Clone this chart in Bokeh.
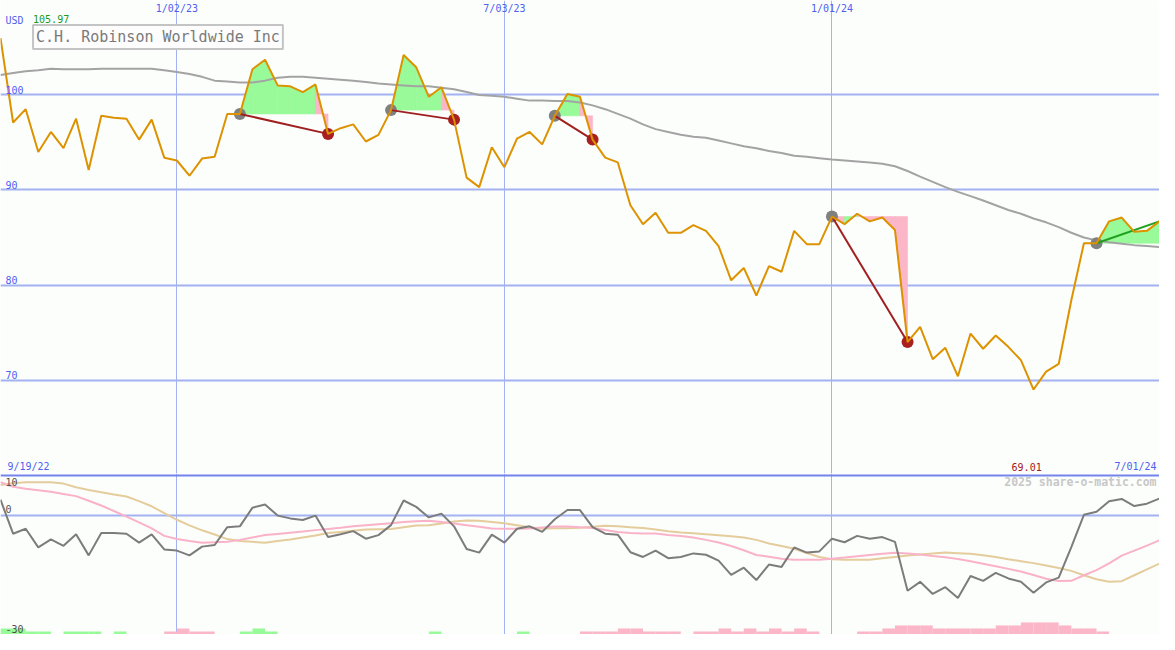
import numpy as np
import pandas as pd
from bokeh.plotting import figure
from bokeh.layouts import column
from bokeh.models import Range1d, Grid, FixedTicker, Label
from bokeh.embed import file_html
from bokeh.resources import INLINE
from bokeh.core.properties import value

# ---------------- data ----------------
dates = pd.date_range("2022-09-26", "2024-07-01", freq="7D")  # weekly points (93)

price = [105.97, 97.1, 98.5, 94.0, 96.1, 94.4, 97.5, 92.1, 97.8, 97.6,
         97.5, 95.3, 97.4, 93.4, 93.1, 91.5, 93.3, 93.5, 98.0, 98.0,
         102.7, 103.7, 101.0, 100.9, 100.3, 101.1, 95.9, 96.5, 96.9, 95.1,
         95.8, 98.4, 104.2, 102.9, 99.8, 100.8, 97.4, 91.3, 90.3, 94.5,
         92.4, 95.4, 96.1, 94.8, 97.8, 100.1, 99.8, 95.3, 93.4, 92.9,
         88.4, 86.4, 87.6, 85.5, 85.5, 86.3, 85.7, 84.1, 80.5, 81.8,
         78.9, 82.0, 81.4, 85.7, 84.3, 84.3, 87.2, 86.4, 87.5, 86.7,
         87.1, 85.8, 74.0, 75.6, 72.2, 73.4, 70.4, 74.9, 73.3, 74.7,
         73.5, 72.1, 69.01, 70.9, 71.7, 78.4, 84.4, 84.4, 86.7, 87.1,
         85.6, 85.7, 86.7]

ma_long = [102.1, 102.3, 102.5, 102.6, 102.75, 102.7, 102.7, 102.7, 102.75, 102.75,
           102.75, 102.75, 102.75, 102.6, 102.4, 102.2, 101.9, 101.5, 101.4, 101.3,
           101.3, 101.5, 101.8, 101.9, 101.9, 101.8, 101.7, 101.6, 101.5, 101.35,
           101.2, 101.1, 101.0, 100.9, 100.9, 100.75, 100.6, 100.3, 100.0, 99.9,
           99.8, 99.6, 99.4, 99.4, 99.35, 99.35, 99.2, 98.9, 98.5, 98.0,
           97.5, 96.9, 96.4, 96.1, 95.8, 95.6, 95.5, 95.2, 94.9, 94.6,
           94.4, 94.1, 93.9, 93.6, 93.5, 93.35, 93.2, 93.1, 93.0, 92.9,
           92.75, 92.5, 92.0, 91.4, 90.85, 90.3, 89.8, 89.35, 88.9, 88.4,
           87.9, 87.5, 87.0, 86.6, 86.1, 85.5, 85.0, 84.7, 84.5, 84.35,
           84.2, 84.1, 84.0]

osc = [3.9, -4.65, -3.4, -8.1, -6.1, -7.7, -4.8, -10.1, -4.5, -4.5,
       -4.65, -6.9, -4.8, -8.6, -8.9, -10.1, -7.9, -7.5, -3.0, -2.8,
       1.9, 2.7, -0.1, -0.8, -1.2, -0.1, -5.5, -4.8, -4.0, -5.9,
       -5.0, -2.5, 3.7, 2.1, -0.55, 0.4, -2.8, -8.5, -9.4, -4.9,
       -6.9, -3.4, -2.8, -4.2, -1.0, 1.3, 1.3, -3.0, -4.65, -4.9,
       -9.3, -10.5, -8.9, -10.8, -10.5, -9.6, -9.95, -11.4, -15.0, -13.2,
       -16.3, -12.4, -13.0, -8.1, -9.4, -9.1, -5.9, -6.8, -5.2, -5.9,
       -5.5, -6.7, -19.0, -16.75, -19.8, -18.1, -20.8, -15.3, -16.5, -14.5,
       -15.9, -16.75, -19.5, -16.9, -15.7, -8.0, 0.1, 0.85, 3.5, 4.1,
       2.3, 2.9, 4.2]

osc_fast = [8.3, 7.15, 6.65, 6.3, 5.9, 5.35, 4.8, 3.65, 2.45, 1.05,
            -0.35, -1.8, -3.3, -5.2, -6.0, -6.5, -6.9, -6.8, -6.7, -6.2,
            -5.6, -5.0, -4.7, -4.4, -4.1, -3.75, -3.45, -3.15, -2.8, -2.55,
            -2.3, -2.05, -1.7, -1.5, -1.4, -1.7, -2.1, -2.5, -2.9, -3.35,
            -3.4, -3.4, -3.35, -3.1, -2.85, -2.85, -3.05, -3.2, -3.7, -4.2,
            -4.5, -4.6, -4.6, -5.0, -5.2, -5.6, -6.2, -6.85, -7.75, -8.8,
            -10.0, -10.45, -10.95, -11.2, -11.2, -11.2, -10.95, -10.65, -10.3, -10.0,
            -9.7, -9.45, -9.6, -9.9, -10.25, -10.55, -11.0, -11.6, -12.2, -12.85,
            -13.5, -14.15, -15.05, -16.0, -16.55, -16.5, -15.1, -13.8, -12.1, -10.15,
            -8.9, -7.65, -6.3]

osc_slow = [7.6, 8.05, 8.3, 8.3, 8.3, 7.95, 7.05, 6.35, 5.75, 5.2,
            4.7, 3.55, 2.25, 0.5, -1.15, -2.55, -3.8, -4.85, -6.0, -6.5,
            -6.7, -6.95, -6.5, -6.1, -5.6, -5.1, -4.5, -4.2, -3.9, -3.6,
            -3.5, -3.45, -3.0, -2.6, -2.55, -2.1, -1.6, -1.35, -1.4, -1.7,
            -2.05, -2.5, -3.0, -3.4, -3.3, -3.25, -3.15, -2.9, -2.65, -2.75,
            -3.0, -3.2, -3.6, -4.05, -4.35, -4.55, -4.8, -5.05, -5.3, -5.6,
            -6.2, -7.1, -7.75, -8.45, -9.5, -10.5, -11.05, -11.2, -11.2, -11.2,
            -10.85, -10.5, -10.15, -9.9, -9.65, -9.4, -9.55, -9.7, -10.05, -10.5,
            -11.05, -11.55, -12.05, -12.65, -13.3, -14.0, -15.1, -16.1, -16.75, -16.6,
            -15.1, -13.6, -12.15]

# signal strength per week: sign = direction (green +, pink -), magnitude = level
signal = [2, 2, 1, 1, 0, 1, 1, 1, 0, 1,
          0, 0, 0, -1, -2, -1, -1, 0, 0, 1,
          2, 1, 0, 0, 0, 0, 0, 0, 0, 0,
          0, 0, 0, 0, 1, 0, 0, 0, 0, 0,
          0, 1, 0, 0, 0, 0, -1, -1, -1, -2,
          -2, -1, -1, -1, 0, -1, -1, -2, -1, -2,
          -1, -2, -1, -2, -1, 0, 0, 0, -1, -1,
          -2, -3, -3, -3, -2, -2, -2, -2, -2, -3,
          -3, -4, -4, -4, -3, -2, -2, -1, 0, 0,
          0, 0, 0]

trade_entries = ["2023-02-06", "2023-05-01", "2023-07-31", "2024-01-01", "2024-05-27"]
trade_exits = ["2023-03-27", "2023-06-05", "2023-08-21", "2024-02-12", None]

price_ticks = [70, 80, 90, 100]
date_ticks = ["2023-01-02", "2023-07-03", "2024-01-01"]
date_tick_labels = ["1/02/23", "7/03/23", "1/01/24"]
osc_ticks = [10, 0, -30]

title = "C.H. Robinson Worldwide Inc"
currency = "USD"
start_label = "9/19/22"
end_label = "7/01/24"
credit = "2025 share-o-matic.com"

# ---------------- style ----------------
W, H = 1159, 634
SX, SY = W / 1175, H / 650
H1 = round(485 * SY)
H2 = H - H1
BG = "#fcfefc"
GRID = "#a4b2f2"
BLUE_TXT = "#4f5ff0"
FONT = "DejaVu Sans Mono"
GREEN_FILL = "#98fa98"
PINK_FILL = "#fbb6c8"

def ms(d):
    return pd.Timestamp(d).value / 1e6

xms = [ms(d) for d in dates]
idx = {pd.Timestamp(d): i for i, d in enumerate(dates)}
n = len(xms)
x_range = Range1d(xms[0], xms[-1])

# ---------------- main panel ----------------
p1 = figure(width=W, height=H1, x_range=x_range, y_range=Range1d(60.18, 109.93),
            output_backend="svg", toolbar_location=None,
            x_axis_location=None, y_axis_location=None, min_border=0,
            background_fill_color=BG, border_fill_color=BG, outline_line_color=None)
p1.grid.visible = False
p1.add_layout(Grid(dimension=0, ticker=FixedTicker(ticks=[ms(d) for d in date_ticks]),
                   grid_line_color=GRID, grid_line_width=1))
p1.add_layout(Grid(dimension=1, ticker=FixedTicker(ticks=price_ticks),
                   grid_line_color=GRID, grid_line_width=2))

# trade fills
fxs, fys, fcs = [], [], []
ex, ey, xx, xy, ox, oy = [], [], [], [], [], []
for e, x in zip(trade_entries, trade_exits):
    ei = idx[pd.Timestamp(e)]
    xi = idx[pd.Timestamp(x)] if x else n - 1
    lvl = price[ei]
    for k in range(ei, xi):
        fxs.append([xms[k], xms[k + 1], xms[k + 1], xms[k]])
        fys.append([price[k], price[k + 1], lvl, lvl])
        fcs.append(GREEN_FILL if price[k + 1] >= lvl else PINK_FILL)
    ex.append(xms[ei]); ey.append(lvl)
    if x:
        xx.append(xms[xi]); xy.append(price[xi])
    else:
        ox.append(xms[xi]); oy.append(price[xi])

p1.patches(fxs, fys, fill_color=fcs, line_color=fcs, line_width=0.6)
p1.line(xms, ma_long, line_color="#a3a3a3", line_width=2)

closed_ex = ex[:len(xx)]
closed_ey = ey[:len(xx)]
p1.scatter(ex, ey, size=12, fill_color="#808080", line_color=None)
p1.scatter(xx, xy, size=12, fill_color="#a82020", line_color=None)
p1.segment(closed_ex, closed_ey, xx, xy, line_color="#a02020", line_width=2)
p1.segment(ex[len(xx):], ey[len(xx):], ox, oy, line_color="#20a020", line_width=2)
p1.line(xms, price, line_color="#dd9200", line_width=2)

# price tick labels
p1.text(x=[xms[0]] * len(price_ticks), y=price_ticks, text=[str(t) for t in price_ticks],
        x_offset=5 * SX, y_offset=-1, text_baseline="bottom", text_align="left",
        text_font=value(FONT), text_font_size="10px", text_color=BLUE_TXT)
# date tick labels
p1.text(x=[ms(d) for d in date_ticks], y=[109.93] * len(date_ticks), text=date_tick_labels,
        y_offset=3 * SY, text_baseline="top", text_align="center",
        text_font=value(FONT), text_font_size="10px", text_color=BLUE_TXT)

imax = int(np.argmax(price))
imin = int(np.argmin(price))
p1.add_layout(Label(x=5 * SX, y=H1 - 15 * SY, x_units="screen", y_units="screen",
                    text=currency, text_baseline="top", text_font=FONT,
                    text_font_size="10px", text_color=BLUE_TXT))
p1.add_layout(Label(x=33 * SX, y=H1 - 15 * SY, x_units="screen", y_units="screen",
                    text=f"{price[imax]:.2f}", text_baseline="top", text_font=FONT,
                    text_font_size="10px", text_color="#1a9a1a"))
p1.add_layout(Label(x=33 * SX, y=H1 - 25 * SY, x_units="screen", y_units="screen",
                    text=title, text_baseline="top", text_align="left", text_font=FONT,
                    text_font_size="15px", text_color="#7a7a7a",
                    border_line_color="#c4c4c4", border_line_width=2,
                    background_fill_color="#fdfdfd", padding=3))
p1.add_layout(Label(x=7 * SX, y=7 * SY, x_units="screen", y_units="screen",
                    text=start_label, text_baseline="middle", text_font=FONT,
                    text_font_size="10px", text_color=BLUE_TXT))
p1.add_layout(Label(x=W - 3 * SX, y=7 * SY, x_units="screen", y_units="screen",
                    text=end_label, text_baseline="middle", text_align="right",
                    text_font=FONT, text_font_size="10px", text_color=BLUE_TXT))
p1.text(x=[xms[imin]], y=[60.18], text=[f"{price[imin]:.2f}"], x_offset=-7 * SX,
        y_offset=-7 * SY, text_baseline="middle", text_align="center",
        text_font=value(FONT), text_font_size="10px", text_color="#a01818")

# ---------------- oscillator panel ----------------
p2 = figure(width=W, height=H2, x_range=x_range, y_range=Range1d(-30.0, 10.49),
            output_backend="svg", toolbar_location=None,
            x_axis_location=None, y_axis_location=None, min_border=0,
            background_fill_color=BG, border_fill_color=BG, outline_line_color=None)
p2.grid.visible = False
p2.add_layout(Grid(dimension=0, ticker=FixedTicker(ticks=[ms(d) for d in date_ticks]),
                   grid_line_color=GRID, grid_line_width=1))
p2.add_layout(Grid(dimension=1, ticker=FixedTicker(ticks=[0]),
                   grid_line_color=GRID, grid_line_width=2))
p2.add_layout(Grid(dimension=1, ticker=FixedTicker(ticks=[osc_ticks[0]]),
                   grid_line_color="#7484ec", grid_line_width=2))

bl, br, bt, bc = [], [], [], []
for i, s in enumerate(signal):
    if s != 0 and i + 1 < n:
        bl.append(xms[i]); br.append(xms[i + 1])
        bt.append(-30 + abs(s) * 0.76)
        bc.append(GREEN_FILL if s > 0 else PINK_FILL)
p2.quad(left=bl, right=br, bottom=[-30] * len(bl), top=bt, fill_color=bc, line_color=None)

p2.line(xms, osc_slow, line_color="#e4cc9c", line_width=2)
p2.line(xms, osc_fast, line_color="#f9b2c8", line_width=2)
p2.line(xms, osc, line_color="#7c7c7c", line_width=2)

p2.text(x=[xms[0]], y=[osc_ticks[0]], text=[str(osc_ticks[0])], x_offset=5 * SX, y_offset=3,
        text_baseline="top", text_font=value(FONT), text_font_size="10px", text_color="#505050")
p2.text(x=[xms[0]] * 2, y=osc_ticks[1:], text=[str(t) for t in osc_ticks[1:]],
        x_offset=5 * SX, y_offset=-2, text_baseline="bottom",
        text_font=value(FONT), text_font_size="10px", text_color="#505050")
p2.add_layout(Label(x=W - 3 * SX, y=H2 - 9 * SY, x_units="screen", y_units="screen",
                    text=credit, text_baseline="middle", text_align="right",
                    text_font=FONT, text_font_size="11.5px", text_font_style="bold",
                    text_color="#c8c8c8"))

layout = column(p1, p2, spacing=0)
open("out.html", "w").write(file_html(layout, INLINE, title="C.H. Robinson Worldwide Inc"))
